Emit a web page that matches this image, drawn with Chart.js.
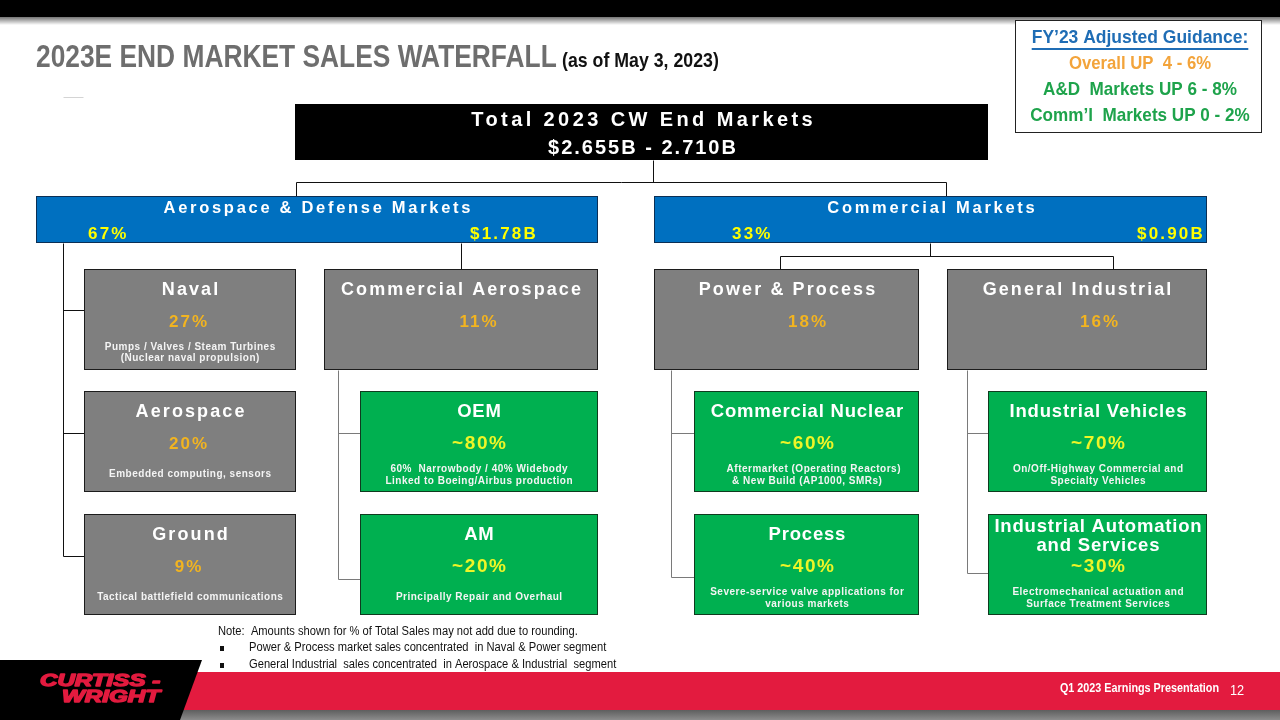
<!DOCTYPE html>
<html>
<head>
<meta charset="utf-8">
<title>2023E End Market Sales Waterfall</title>
<script src="https://cdn.jsdelivr.net/npm/chart.js@4.4.0/dist/chart.umd.min.js"></script>
<style>
  html, body { margin: 0; padding: 0; background: #fff; overflow: hidden; }
  #slide { display: block; }
</style>
</head>
<body>
<canvas id="slide" width="1280" height="720"></canvas>
<script>
// ---- data ----
const slideTitle = '2023E END MARKET SALES WATERFALL';
const slideDate = '(as of May 3, 2023)';

const totalTitle = 'Total 2023 CW End Markets';
const totalRange = '$2.655B - 2.710B';

const marketNames = ['Aerospace & Defense Markets', 'Commercial Markets'];
const marketShares = ['67%', '33%'];
const marketSales = ['$1.78B', '$0.90B'];

const defenseNames = ['Naval', 'Aerospace', 'Ground'];
const defenseShares = ['27%', '20%', '9%'];
const defenseNotes = [
  ['Pumps / Valves / Steam Turbines', '(Nuclear naval propulsion)'],
  ['Embedded computing, sensors'],
  ['Tactical battlefield communications'],
];

const endNames = ['Commercial Aerospace', 'Power & Process', 'General Industrial'];
const endShares = ['11%', '18%', '16%'];

const subNames = [
  [['OEM'], ['AM']],
  [['Commercial Nuclear'], ['Process']],
  [['Industrial Vehicles'], ['Industrial Automation', 'and Services']],
];
const subShares = [
  ['~80%', '~20%'],
  ['~60%', '~40%'],
  ['~70%', '~30%'],
];
const subNotes = [
  [['60%  Narrowbody / 40% Widebody', 'Linked to Boeing/Airbus production'], ['Principally Repair and Overhaul']],
  [['    Aftermarket (Operating Reactors)', '& New Build (AP1000, SMRs)'], ['Severe-service valve applications for', 'various markets']],
  [['On/Off-Highway Commercial and', 'Specialty Vehicles'], ['Electromechanical actuation and', 'Surface Treatment Services']],
];

const guidanceTitle = 'FY\u201923 Adjusted Guidance:';
const guidanceLines = ['Overall UP  4 - 6%', 'A&D  Markets UP 6 - 8%', 'Comm\u2019l  Markets UP 0 - 2%'];

const noteLines = [
  'Note:  Amounts shown for % of Total Sales may not add due to rounding.',
  'Power & Process market sales concentrated  in Naval & Power segment',
  'General Industrial  sales concentrated  in Aerospace & Industrial  segment',
];
const footerText = 'Q1 2023 Earnings Presentation';
const pageNumber = '12';
const logoLines = ['CURTISS -', 'WRIGHT'];

// ---- layout (slide units, mapped through the chart scales) ----
const layout = {
  total: [295, 104, 988, 160],
  markets: [[36, 196, 598, 243], [654, 196, 1207, 243]],
  rows: [269, 391, 514],
  rowH: 101,
  defenseCol: [84, 296],
  endCols: [[324, 598], [654, 919], [947, 1207]],
  endPctShift: [17, 20, 22],
  subCols: [[360, 598], [694, 919], [988, 1207]],
  spineX: [338, 671, 967],
  spineEnd: [579, 577, 573],
  guidance: [1015, 20, 1262, 133],
  guidanceSx: [0.92, 0.88, 0.9, 0.9],
};

const colors = {
  gray: '#7f7f7f', green: '#00b050', blue: '#0070c0', border: '#1c1c1c',
  gold: '#f2b420', yellow: '#ffff00', lime: '#eef527', red: '#e31b3f',
};

const FONT = '"Liberation Sans", Arial, sans-serif';

function label(ctx, str, x, y, o) {
  const middle = !o.base || o.base === 'middle';
  ctx.save();
  ctx.font = o.font;
  ctx.fillStyle = o.color || '#fff';
  ctx.letterSpacing = (o.ls || 0) + 'px';
  ctx.textBaseline = o.base || 'middle';
  ctx.textAlign = o.align || 'center';
  ctx.translate(x + (o.align === 'center' || !o.align ? (o.ls || 0) / 2 : 0), y + (middle ? 1 : 0));
  ctx.scale(o.sx || 1, 1);
  ctx.fillText(str, 0, 0);
  if (o.thick) {
    ctx.strokeStyle = o.color;
    ctx.lineWidth = o.thick;
    ctx.lineJoin = 'round';
    ctx.strokeText(str, 0, 0);
  }
  const w = ctx.measureText(str).width * (o.sx || 1);
  ctx.restore();
  return w;
}

const slidePlugin = {
  id: 'slide',
  afterDraw(chart) {
    const ctx = chart.ctx;
    const sx = chart.scales.x, sy = chart.scales.y;
    const px = v => Math.round(sx.getPixelForValue(v));
    const py = v => Math.round(sy.getPixelForValue(v));

    const rect = (x0, y0, x1, y1, fill, stroke) => {
      const a = px(x0), b = py(y0), c = px(x1), d = py(y1);
      ctx.fillStyle = fill;
      ctx.fillRect(a, b, c - a, d - b);
      if (stroke) {
        ctx.strokeStyle = stroke;
        ctx.lineWidth = 1;
        ctx.strokeRect(a + 0.5, b + 0.5, c - a - 1, d - b - 1);
      }
    };
    const path = (pts, color) => {
      ctx.beginPath();
      pts.forEach(([x, y], i) => {
        const X = px(x) + 0.5, Y = py(y) + 0.5;
        i ? ctx.lineTo(X, Y) : ctx.moveTo(X, Y);
      });
      ctx.strokeStyle = color;
      ctx.lineWidth = 1;
      ctx.stroke();
    };
    const text = (str, x, y, o) => label(ctx, str, px(x), py(y), o);

    // top bar with shadow
    rect(0, 0, 1280, 17, '#000');
    const g = ctx.createLinearGradient(0, py(17), 0, py(25));
    g.addColorStop(0, 'rgba(0,0,0,0.55)');
    g.addColorStop(1, 'rgba(0,0,0,0)');
    ctx.fillStyle = g;
    ctx.fillRect(0, py(17), px(1280), py(25) - py(17));

    // title
    const tw = text(slideTitle, 36, 67, { font: 'bold 31px ' + FONT, color: '#6e6e6e', align: 'left', base: 'alphabetic', sx: 0.85 });
    text(slideDate, 36 + tw + 5, 67, { font: 'bold 21px ' + FONT, color: '#111', align: 'left', base: 'alphabetic', sx: 0.845 });
    path([[63, 97], [83, 97]], '#d4d4d4');

    // guidance box
    const gb = layout.guidance;
    rect(gb[0], gb[1], gb[2], gb[3], '#fff', '#222');
    const gcx = (gb[0] + gb[2]) / 2 + 1;
    const gs = layout.guidanceSx;
    const gw = text(guidanceTitle, gcx, 37, { font: 'bold 19px ' + FONT, color: '#1f6db5', sx: gs[0] });
    ctx.fillStyle = '#1f6db5';
    ctx.fillRect(px(gcx) - gw / 2, py(48), gw, 2);
    const gColors = ['#f3a43b', '#1ea34b', '#1ea34b'];
    guidanceLines.forEach((s, i) => text(s, gcx, [63, 89, 115][i], { font: 'bold 19px ' + FONT, color: gColors[i], sx: gs[i + 1] }));

    // connectors
    const black = '#111', grey = '#7a7a7a';
    const t = layout.total, m = layout.markets, R = layout.rows, H = layout.rowH;
    const tcx = 653;
    path([[tcx, t[3]], [tcx, 182]], black);
    path([[296, 196], [296, 182], [946, 182], [946, 196]], black);
    path([[63, m[0][3]], [63, R[2] + 42]], black);
    R.forEach(r => path([[63, r + (r === R[0] ? 41 : 42)], [84, r + (r === R[0] ? 41 : 42)]], black));
    path([[461, m[0][3]], [461, R[0]]], black);
    path([[930, m[1][3]], [930, 256]], black);
    path([[780, R[0]], [780, 256], [1113, 256], [1113, R[0]]], black);
    layout.spineX.forEach((x, i) => {
      const sc = layout.subCols[i];
      path([[x, R[0] + H], [x, layout.spineEnd[i]], [sc[0], layout.spineEnd[i]]], grey);
      path([[x, 433], [sc[0], 433]], grey);
    });

    // total box
    rect(t[0], t[1], t[2], t[3], '#000');
    const tc = (t[0] + t[2]) / 2;
    text(totalTitle, tc, 119, { font: 'bold 20px ' + FONT, ls: 3.4, color: '#fff' });
    text(totalRange, tc, 147, { font: 'bold 20px ' + FONT, ls: 2, color: '#fff' });

    // market boxes
    m.forEach((b, i) => {
      rect(b[0], b[1], b[2], b[3], colors.blue, '#0b2f55');
      text(marketNames[i], (b[0] + b[2]) / 2, 207, { font: 'bold 16.5px ' + FONT, ls: 2.7, color: '#fff' });
    });
    const mv = { font: 'bold 17px ' + FONT, ls: 2.2, color: colors.yellow, align: 'left' };
    text(marketShares[0], 88, 233, mv);
    text(marketShares[1], 732, 233, mv);
    text(marketSales[0], 538, 233, Object.assign({}, mv, { align: 'right' }));
    text(marketSales[1], 1205, 233, Object.assign({}, mv, { align: 'right' }));

    // box content helper
    const grayName = { font: 'bold 18px ' + FONT, ls: 2.1, color: '#fff' };
    const grayPct = { font: 'bold 17px ' + FONT, ls: 2, color: colors.gold };
    const greenName = { font: 'bold 18.5px ' + FONT, ls: 0.8, color: '#fff' };
    const greenPct = { font: 'bold 19px ' + FONT, ls: 1.6, color: colors.lime };
    const desc = { font: 'bold 10px ' + FONT, ls: 0.5, color: '#f4f4f4' };
    const fill = (x0, x1, top, names, pct, notes, nameStyle, pctStyle, shift, gap) => {
      const cx = (x0 + x1) / 2;
      if (names.length === 1) text(names[0], cx, top + 20, nameStyle);
      else names.forEach((s, k) => text(s, cx, top + 12 + k * 19, nameStyle));
      text(pct, cx + (shift || 0), top + 52, pctStyle);
      if (notes) {
        if (notes.length === 1) text(notes[0], cx, top + 82, desc);
        else notes.forEach((s, k) => text(s, cx, top + 77 + k * gap, desc));
      }
    };

    // defense column
    const dc = layout.defenseCol;
    defenseNames.forEach((n, i) => {
      rect(dc[0], R[i], dc[1], R[i] + H, colors.gray, colors.border);
      fill(dc[0], dc[1], R[i], [n], defenseShares[i], defenseNotes[i], grayName, grayPct, -2, 10.5);
    });

    // end markets
    layout.endCols.forEach((c, i) => {
      rect(c[0], R[0], c[1], R[0] + H, colors.gray, colors.border);
      fill(c[0], c[1], R[0], [endNames[i]], endShares[i], null, grayName, grayPct, layout.endPctShift[i]);
      const sc = layout.subCols[i];
      [1, 2].forEach((r, k) => {
        rect(sc[0], R[r], sc[1], R[r] + H, colors.green, '#0f3b1f');
        fill(sc[0], sc[1], R[r], subNames[i][k], subShares[i][k], subNotes[i][k], greenName, greenPct, 0, 11.5);
      });
    });

    // notes
    const nf = { font: '12px ' + FONT, color: '#111', align: 'left', sx: 0.93 };
    text(noteLines[0], 218, 631, nf);
    [1, 2].forEach(k => {
      rect(220, 646 + (k - 1) * 17, 224, 651 + (k - 1) * 17, '#111');
      text(noteLines[k], 249, 647 + (k - 1) * 17, nf);
    });

    // footer band
    rect(0, 672, 1280, 710, colors.red);
    const fg = ctx.createLinearGradient(0, py(710), 0, py(720));
    fg.addColorStop(0, '#5e5e5e');
    fg.addColorStop(1, '#8c8c8c');
    ctx.fillStyle = fg;
    ctx.fillRect(0, py(710), px(1280), py(720) - py(710));
    ctx.beginPath();
    ctx.moveTo(px(0), py(660));
    ctx.lineTo(px(202), py(660));
    ctx.lineTo(px(180), py(720));
    ctx.lineTo(px(0), py(720));
    ctx.closePath();
    ctx.fillStyle = '#000';
    ctx.fill();
    const lf = { font: 'italic 900 17px ' + FONT, color: colors.red, align: 'left', sx: 1.42, thick: 1.4 };
    text(logoLines[0], 40, 680, lf);
    text(logoLines[1], 62, 696, lf);
    text(footerText, 1219, 688, { font: 'bold 12px ' + FONT, color: '#fff', align: 'right', sx: 0.9 });
    text(pageNumber, 1230, 690, { font: '15px ' + FONT, color: '#fff', align: 'left', sx: 0.85 });
  }
};

new Chart(document.getElementById('slide'), {
  type: 'scatter',
  data: { datasets: [] },
  options: {
    responsive: false,
    animation: false,
    events: [],
    layout: { padding: 0 },
    scales: {
      x: { type: 'linear', min: 0, max: 1280, display: false },
      y: { type: 'linear', min: 0, max: 720, reverse: true, display: false },
    },
    plugins: { legend: { display: false }, tooltip: { enabled: false } },
  },
  plugins: [slidePlugin],
});
</script>
</body>
</html>
